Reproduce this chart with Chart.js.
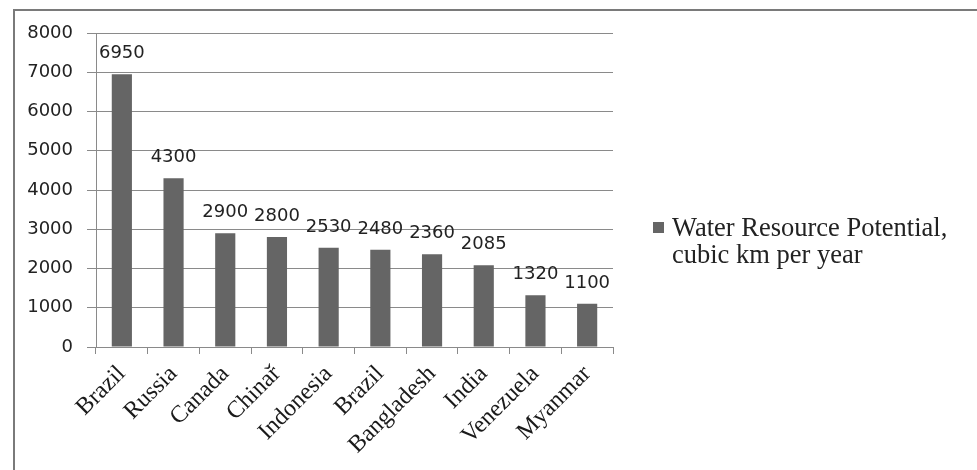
<!DOCTYPE html>
<html>
<head>
<meta charset="utf-8">
<script src="https://cdn.jsdelivr.net/npm/chart.js@4/dist/chart.umd.min.js"></script>
<style>
  body { margin: 0; background: #fff; }
  #wrap { position: relative; width: 977px; height: 470px; overflow: hidden; }
  #frame { position: absolute; left: 13px; top: 9px; width: 1000px; height: 500px;
           border-top: 2px solid #7a7a7a; border-left: 2px solid #7a7a7a; }
  #chart { position: absolute; left: 0; top: 0; }
</style>
</head>
<body>
<div id="wrap">
  <div id="frame"></div>
  <canvas id="chart" width="977" height="470"></canvas>
</div>
<script>
// values
const countries = ['Brazil', 'Russia', 'Canada', 'Chinař', 'Indonesia', 'Brazil', 'Bangladesh', 'India', 'Venezuela', 'Myanmar'];
const waterValues = [6950, 4300, 2900, 2800, 2530, 2480, 2360, 2085, 1320, 1100];
const legendLines = ['Water Resource Potential,', 'cubic km per year'];
const yTicks = [0, 1000, 2000, 3000, 4000, 5000, 6000, 7000, 8000];

const barColor = '#656565';
const gridColor = '#8a8a8a';

const valueLabels = {
    id: 'valueLabels',
    afterDatasetsDraw(chart) {
        const ctx = chart.ctx;
        const meta = chart.getDatasetMeta(0);
        ctx.save();
        ctx.font = '18px "DejaVu Sans"';
        ctx.fillStyle = '#222';
        ctx.textAlign = 'center';
        ctx.textBaseline = 'alphabetic';
        meta.data.forEach((bar, i) => {
            ctx.fillText(String(waterValues[i]), bar.x, bar.y - 16);
        });
        ctx.restore();
    }
};

// legend with a two line label, Chart.js legend can't wrap
const sideLegend = {
    id: 'sideLegend',
    afterDraw(chart) {
        const ctx = chart.ctx;
        const x = chart.chartArea.right + 40;
        const y = 222;
        ctx.save();
        ctx.fillStyle = barColor;
        ctx.fillRect(x, y, 11, 11);
        ctx.font = '26.5px "Liberation Serif"';
        ctx.fillStyle = '#222';
        ctx.textAlign = 'left';
        ctx.textBaseline = 'alphabetic';
        legendLines.forEach((line, i) => {
            ctx.fillText(line, x + 19, y + 14 + i * 27);
        });
        ctx.restore();
    }
};

new Chart(document.getElementById('chart').getContext('2d'), {
    type: 'bar',
    data: {
        labels: countries,
        datasets: [{
            label: legendLines.join(' '),
            data: waterValues,
            backgroundColor: barColor,
            borderWidth: 0,
            barPercentage: 0.39,
            categoryPercentage: 1
        }]
    },
    options: {
        responsive: false,
        animation: false,
        layout: { padding: { top: 33, right: 364, left: 0, bottom: 0 } },
        plugins: {
            legend: { display: false },
            tooltip: { enabled: false }
        },
        scales: {
            x: {
                afterFit: scale => { scale.height = 123; },
                grid: { drawOnChartArea: false, drawTicks: true, tickLength: 7, color: gridColor, offset: true },
                border: { display: true, color: gridColor, width: 1 },
                ticks: {
                    autoSkip: false,
                    minRotation: 45,
                    maxRotation: 45,
                    padding: 6,
                    color: '#1a1a1a',
                    font: { family: '"Liberation Serif"', size: 24 }
                }
            },
            y: {
                min: 0,
                max: 8000,
                afterFit: scale => { scale.width = 96; },
                afterBuildTicks: scale => { scale.ticks = yTicks.map(v => ({ value: v })); },
                grid: { color: gridColor, tickLength: 9, drawTicks: true },
                border: { display: true, color: gridColor, width: 1 },
                ticks: {
                    padding: 14,
                    color: '#222',
                    font: { family: '"DejaVu Sans"', size: 18 },
                    callback: value => String(value)
                }
            }
        }
    },
    plugins: [valueLabels, sideLegend]
});
</script>
</body>
</html>
